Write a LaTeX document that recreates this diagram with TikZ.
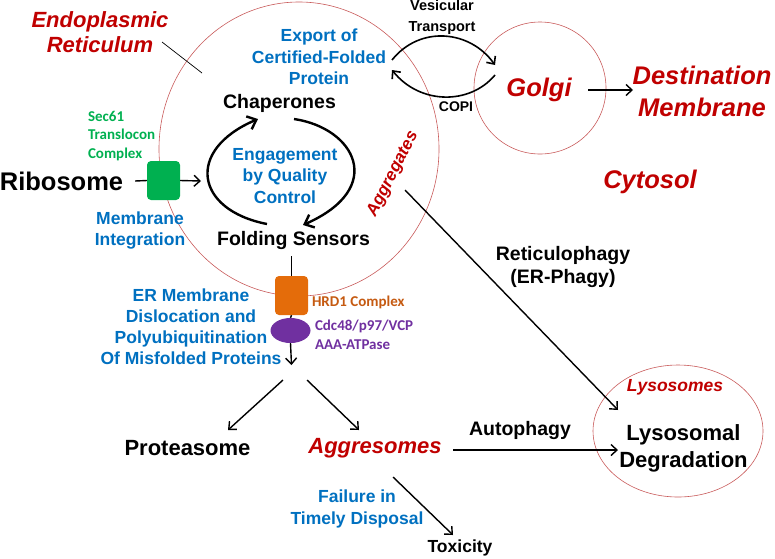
\documentclass[tikz,border=0pt]{standalone}
\usepackage{fontspec}
\setmainfont{Liberation Sans}
\newfontfamily\calib{Carlito}
\usetikzlibrary{arrows.meta,shapes.geometric}
\definecolor{qred}{RGB}{192,0,0}
\definecolor{qblue}{RGB}{0,112,192}
\definecolor{qgreen}{RGB}{0,176,80}
\definecolor{qorange}{RGB}{228,108,10}
\definecolor{qbrown}{RGB}{197,90,17}
\definecolor{qpurple}{RGB}{112,48,160}
\definecolor{qcirc}{RGB}{200,90,90}
\newcommand\myfs[2]{\fontsize{#1}{#2}\selectfont}
\begin{document}
\begin{tikzpicture}[x=1pt,y=-1pt,
  lbl/.style={inner sep=0pt, outer sep=0pt, align=center},
  bluetxt/.style={lbl, text=qblue, font=\myfs{17.5}{21.5}\bfseries},
  blacktxt/.style={lbl, text=black, font=\myfs{19.5}{23}\bfseries},
  redtxt/.style={lbl, text=qred, font=\myfs{25.5}{32}\bfseries\itshape},
  smalltxt/.style={lbl, align=left, anchor=west, font=\calib\myfs{15}{18.5}\bfseries},
  memb/.style={draw=qcirc, line width=0.6pt},
  arr/.style={-{Straight Barb[length=6pt,width=11pt]}, line width=1.4pt},
  cyc/.style={-{Straight Barb[length=8pt,width=14pt]}, line width=2.4pt},
  plain/.style={line width=1.4pt},
  pbox/.style={rounded corners=4pt, minimum width=33pt, minimum height=39pt, inner sep=0pt}
]
\useasboundingbox (0,0) rectangle (775,558);

% membranes
\coordinate (erc) at (299,149);
\coordinate (golc) at (540,88);
\coordinate (lysc) at (678,431);
\draw[memb] (erc) ellipse [x radius=140pt, y radius=147pt];
\draw[memb] (golc) circle [radius=66pt];
\draw[memb] (lysc) ellipse [x radius=85pt, y radius=66pt];

% text labels
\node[lbl, text=qred, font=\myfs{22}{25}\bfseries\itshape] (erlabel) at (100,32.5) {Endoplasmic\\Reticulum};
\node[bluetxt] (export) at (319,57) {Export of\\Certified-Folded\\Protein};
\node[blacktxt] (chap) at (279.5,103) {Chaperones};
\node[smalltxt, text=qgreen] (sec61) at (88,136) {Sec61\\Translocon\\Complex};
\node[lbl, font=\myfs{25.5}{30}\bfseries] (ribo) at (61.5,181) {Ribosome};
\node[bluetxt] (engage) at (285,176) {Engagement\\by Quality\\Control};
\node[blacktxt] (fold) at (293.5,240) {Folding Sensors};
\node[bluetxt] (membint) at (140,230.5) {Membrane\\Integration};
\node[lbl, text=qred, font=\myfs{17}{21}\bfseries\itshape, rotate=63] (aggreg) at (393,174) {Aggregates};
\node[smalltxt, text=qbrown] (hrdtxt) at (312,302) {HRD1 Complex};
\node[smalltxt, text=qpurple, font=\calib\myfs{15}{19}\bfseries] (cdctxt) at (315,334.5) {Cdc48/p97/VCP\\AAA-ATPase};
\node[lbl, text=qblue, font=\myfs{17.5}{21}\bfseries] (erad) at (191,326.5) {ER Membrane\\Dislocation and\\Polyubiquitination\\Of Misfolded Proteins};
\node[lbl, font=\myfs{22}{26}\bfseries] (prot) at (187.5,448) {Proteasome};
\node[lbl, text=qred, font=\myfs{22}{26}\bfseries\itshape] (aggres) at (375,448) {Aggresomes};
\node[blacktxt] (autoph) at (520,430) {Autophagy};
\node[lbl, text=qred, font=\myfs{17.5}{21}\bfseries\itshape] (lysos) at (675,387) {Lysosomes};
\node[lbl, font=\myfs{22}{27}\bfseries] (lysdeg) at (683.5,448.5) {Lysosomal\\Degradation};
\node[lbl, font=\myfs{19.5}{23}\bfseries] (retic) at (563,266.5) {Reticulophagy\\(ER-Phagy)};
\node[redtxt] (cyto) at (650,182) {Cytosol};
\node[redtxt] (dest) at (702,91) {Destination\\Membrane};
\node[redtxt] (golgi) at (539,90) {Golgi};
\node[lbl, font=\myfs{14.5}{21}\bfseries] (vesic) at (442,17.5) {Vesicular\\Transport};
\node[lbl, font=\myfs{14}{17}\bfseries] (copi) at (456,107) {COPI};
\node[bluetxt, font=\myfs{17.5}{22}\bfseries] (fail) at (357,509) {Failure in\\Timely Disposal};
\node[lbl, font=\myfs{17.5}{21}\bfseries] (tox) at (460,548) {Toxicity};

% boxes
\node[pbox, fill=qgreen] (sec) at (163.5,180.5) {};
\node[pbox, fill=qorange] (hrd) at (291.5,295.5) {};
\node[ellipse, fill=qpurple, minimum width=40pt, minimum height=25pt, inner sep=0pt] (cdc) at (290.5,330.5) {};

% coordinates
\coordinate (erl1) at (162,42);
\coordinate (erl2) at (202,73);
\coordinate (secout) at (201,181);
\coordinate (lc1) at (267,224);
\coordinate (lc2) at (258,119);
\coordinate (rc1) at (294,119);
\coordinate (rc2) at (303,225);
\coordinate (foldbot) at (291.5,256);
\coordinate (cdcend) at (291.5,365);
\coordinate (sp1) at (283,380);
\coordinate (sp2) at (307,380);
\coordinate (protin) at (228,430);
\coordinate (aggin) at (359,430);
\coordinate (aggout) at (453,450);
\coordinate (lysin) at (618,450);
\coordinate (reticst) at (405,190);
\coordinate (reticen) at (618,410);
\coordinate (toxst) at (393,477);
\coordinate (toxen) at (453,535);
\coordinate (golout) at (588,90);
\coordinate (destin) at (633,90);
\coordinate (v1) at (392,60);
\coordinate (v2) at (495,65);
\coordinate (c1) at (495,75);
\coordinate (c2) at (392,70);

% connectors
\draw[line width=0.7pt] (erl1) -- (erl2);
\draw[plain] (ribo.east) ++(12,0) -- (sec.west);
\draw[arr] (sec.east) -- (secout);
\draw[cyc] (lc1) .. controls (195,210) and (185,150) .. (lc2);
\draw[cyc] (rc1) .. controls (355,128) and (387,188) .. (rc2);
\draw[plain] (foldbot) -- (hrd.north);
\draw[plain] (hrd.south) -- (cdc.north);
\draw[arr] (cdc.south) -- (cdcend);
\draw[arr] (sp1) -- (protin);
\draw[arr] (sp2) -- (aggin);
\draw[arr] (aggout) -- (lysin);
\draw[arr] (reticst) -- (reticen);
\draw[arr] (toxst) -- (toxen);
\draw[arr] (golout) -- (destin);
\draw[arr, line width=1.6pt] (v1) .. controls (420,25) and (470,30) .. (v2);
\draw[arr, line width=1.6pt] (c1) .. controls (470,105) and (420,105) .. (c2);
\end{tikzpicture}
\end{document}
